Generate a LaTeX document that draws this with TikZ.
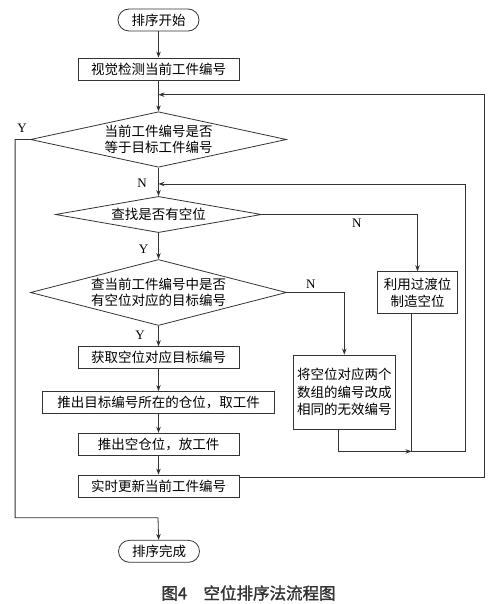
\documentclass[tikz,border=0pt]{standalone}
\usepackage{fontspec}
\setmainfont{Liberation Serif}
\newfontfamily\cjk{Noto Sans CJK SC}
\newfontfamily\cjkcap{Noto Sans CJK SC}[BoldFont={Noto Sans CJK SC}, BoldFeatures={FakeBold=1.6}]
\usetikzlibrary{shapes, arrows.meta, calc}
\definecolor{lineGray}{gray}{0.2}
\tikzstyle{startStop} = [rectangle,
                         rounded corners=11pt,
                         minimum width=81pt,
                         minimum height=22pt,
                         inner sep=0pt,
                         text centered,
                         draw=lineGray,
                         line width=0.8pt,
                         font=\cjk\fontsize{13.5}{16}\selectfont]
\tikzstyle{process}   = [rectangle,
                         minimum width=161pt,
                         minimum height=22pt,
                         inner sep=0pt,
                         text centered,
                         align=center,
                         draw=lineGray,
                         line width=0.8pt,
                         font=\cjk\fontsize{13.5}{17.5}\selectfont]
\tikzstyle{decision}  = [diamond,
                         aspect=4,
                         inner sep=0pt,
                         text centered,
                         align=center,
                         draw=lineGray,
                         line width=0.8pt,
                         font=\cjk\fontsize{13.5}{16}\selectfont]
\tikzstyle{yesNo}     = [inner sep=0pt,
                         font=\fontsize{13}{15}\selectfont]
\tikzstyle{arrow}     = [line width=0.8pt, draw=lineGray,
                         -{Stealth[length=6pt, width=4.5pt]}]
\tikzstyle{line}      = [line width=0.8pt, draw=lineGray]

\begin{document}
\begin{tikzpicture}[x=1pt, y=-1pt]
        \useasboundingbox (0,0) rectangle (503,604);

        \node [startStop] (Start) at (158.5,20) {排序开始};
        \node [process] (Detect)        at ([shift={(0,49)}] Start) {视觉检测当前工件编号};
        \node [decision, minimum width=256pt, minimum height=55pt]
                        (CheckEqual)    at ([shift={(0,119.5)}] Start) {
            当前工件编号是否 \\ 等于目标工件编号
            };
        \node [decision, minimum width=206pt, minimum height=34pt]
                        (FindEmpty)     at ([shift={(0,194.5)}] Start) {查找是否有空位};
        \node [decision, minimum width=256pt, minimum height=66pt]
                        (CheckTarget)   at ([shift={(0,272.5)}] Start) {
            查当前工件编号中是否 \\ 有空位对应的目标编号
            };
        \node [process, minimum width=80pt, minimum height=42pt]
                        (Transfer)      at ([shift={(259,0.2)}] CheckTarget) {
            利用过渡位 \\ 制造空位
            };
        \node [process, minimum width=102pt, minimum height=74pt]
                        (Invalidate)    at ([shift={(185.8,372)}] Start) {
            将空位对应两个 \\ 数组的编号改成 \\ 相同的无效编号
            };
        \node [process] (GetTarget)     at ([shift={(0,337.7)}] Start) {获取空位对应目标编号};
        \node [process, minimum width=232pt]
                        (PushTarget)    at ([shift={(0,382.5)}] Start) {推出目标编号所在的仓位，取工件};
        \node [process] (PushEmpty)     at ([shift={(0,424.2)}] Start) {推出空仓位，放工件};
        \node [process] (Update)        at ([shift={(0,466)}] Start) {实时更新当前工件编号};
        \node [startStop] (Finish)      at ([shift={(0.5,531.3)}] Start) {排序完成};

        \coordinate (Merge) at ([shift={(-6,137.3)}] Transfer.south);

        \draw [arrow] (Start) -- (Detect);
        \draw [arrow] (Detect) -- (CheckEqual);
        \draw [arrow] (CheckEqual) -- (FindEmpty);
        \draw [arrow] (FindEmpty) -- (CheckTarget);
        \draw [arrow] (CheckTarget) -- (GetTarget);
        \draw [arrow] (GetTarget) -- (PushTarget);
        \draw [arrow] (PushTarget) -- (PushEmpty);
        \draw [arrow] (PushEmpty) -- (Update);

        \draw [arrow] (FindEmpty.east) -| (Transfer.north);
        \draw [arrow] (CheckTarget.east) -| (Invalidate.north);
        \draw [arrow] ([shift={(-6,0)}] Invalidate.south) |- (Merge);
        \draw [arrow] ([shift={(-6,0)}] Transfer.south) -- (Merge) -- ++(54,0)
                      |- ([shift={(0,16.3)}] CheckEqual.south);
        \draw [arrow] ([shift={(0,2.7)}] Update.north east) -- ++(244.7,0)
                      |- ([shift={(0,14.3)}] Detect.south);
        \draw [arrow] (CheckEqual.west) -- ++(-15,0)
                      |- ([shift={(-0.5,20.3)}] Update.south) -- (Finish);

        \node [yesNo] (YEqual)   at ([shift={(-8,-11.5)}] CheckEqual.west) {Y};
        \node [yesNo] (NEqual)   at ([shift={(-16.5,16)}] CheckEqual.south) {N};
        \node [yesNo] (YEmpty)   at ([shift={(-15,16.5)}] FindEmpty.south) {Y};
        \node [yesNo] (NEmpty)   at ([shift={(95,8.5)}] FindEmpty.east) {N};
        \node [yesNo] (YTarget)  at ([shift={(-18.5,9.5)}] CheckTarget.south) {Y};
        \node [yesNo] (NTarget)  at ([shift={(24,-8.5)}] CheckTarget.east) {N};

        \node [font=\cjkcap\bfseries\fontsize{16.5}{18}\selectfont, text=black!80]
              (Caption) at (248.5,593) {图4\hspace{1em}空位排序法流程图};
    \end{tikzpicture}
\end{document}
